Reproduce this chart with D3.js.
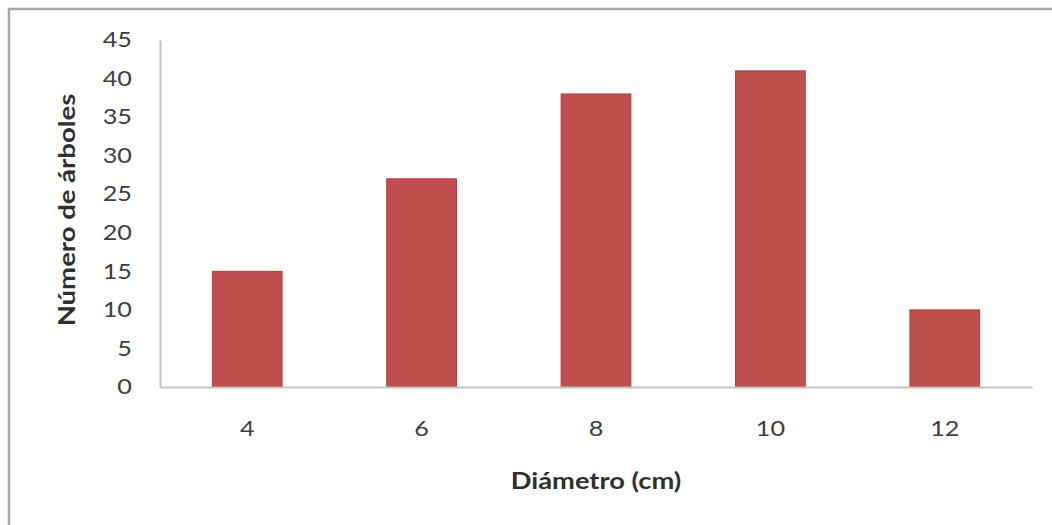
<!DOCTYPE html>
<html>
<head>
<meta charset="utf-8">
<script src="https://cdn.jsdelivr.net/npm/d3@7"></script>
<style>
  html, body { margin: 0; padding: 0; background: #fff; }
  svg { display: block; }
</style>
</head>
<body>
<script>
const categories = ["4", "6", "8", "10", "12"];
const values = [15, 27, 38, 41, 10];
const yTicks = [0, 5, 10, 15, 20, 25, 30, 35, 40, 45];
const xTitle = "Diámetro (cm)";
const yTitle = "Número de árboles";

const W = 1052, H = 525;
const margin = { left: 160, right: 20, top: 40, bottom: 138 };
const font = "Lato, 'Open Sans', sans-serif";
const textColor = "#404040";

const svg = d3.select("body").append("svg").attr("width", W).attr("height", H);

// stretch text horizontally along its direction (reference font is wide)
function widen(sel, factor) {
  sel.each(function () {
    const len = this.getComputedTextLength();
    d3.select(this)
      .attr("textLength", len * factor)
      .attr("lengthAdjust", "spacingAndGlyphs");
  });
}

// outer frame (only top and left edges visible)
svg.append("path")
  .attr("d", `M9,${H} L9,9 L${W},9`)
  .attr("fill", "none")
  .attr("stroke", "#a6a6a6")
  .attr("stroke-width", 2.5);

const x = d3.scaleBand()
  .domain(categories)
  .range([margin.left, W - margin.right])
  .paddingInner(0.6)
  .paddingOuter(0.3);

const y = d3.scaleLinear()
  .domain([0, 45])
  .range([H - margin.bottom, margin.top]);

// bars
svg.append("g").selectAll("rect")
  .data(values)
  .join("rect")
  .attr("x", (d, i) => x(categories[i]))
  .attr("y", d => y(d))
  .attr("width", x.bandwidth())
  .attr("height", d => y(0) - y(d))
  .attr("fill", "#c0504d")
  .attr("stroke", "#b8403d")
  .attr("stroke-width", 1);

// y axis
const yAxis = svg.append("g")
  .attr("transform", `translate(${margin.left},0)`)
  .call(d3.axisLeft(y).tickValues(yTicks).tickSize(0).tickPadding(28));
yAxis.select(".domain").attr("stroke", "#c4c4c4").attr("stroke-width", 2);
yAxis.selectAll("text")
  .attr("fill", textColor)
  .style("font-family", font)
  .style("font-size", "21px")
  .call(widen, 1.2);

// x axis
const xAxis = svg.append("g")
  .attr("transform", `translate(0,${y(0)})`)
  .call(d3.axisBottom(x).tickSize(0).tickPadding(34));
xAxis.select(".domain").attr("stroke", "#c4c4c4").attr("stroke-width", 2);
xAxis.selectAll("text")
  .attr("fill", textColor)
  .style("font-family", font)
  .style("font-size", "21px")
  .call(widen, 1.2);

// axis titles
svg.append("text")
  .attr("x", (margin.left + W - margin.right) / 2)
  .attr("y", 489)
  .attr("text-anchor", "middle")
  .attr("fill", "#303030")
  .style("font-family", font)
  .style("font-weight", "bold")
  .style("font-size", "22px")
  .text(xTitle)
  .call(widen, 1.24);

svg.append("text")
  .attr("transform", `translate(75,210) rotate(-90)`)
  .attr("text-anchor", "middle")
  .attr("fill", "#303030")
  .style("font-family", font)
  .style("font-weight", "bold")
  .style("font-size", "22px")
  .text(yTitle)
  .call(widen, 1.25);
</script>
</body>
</html>
